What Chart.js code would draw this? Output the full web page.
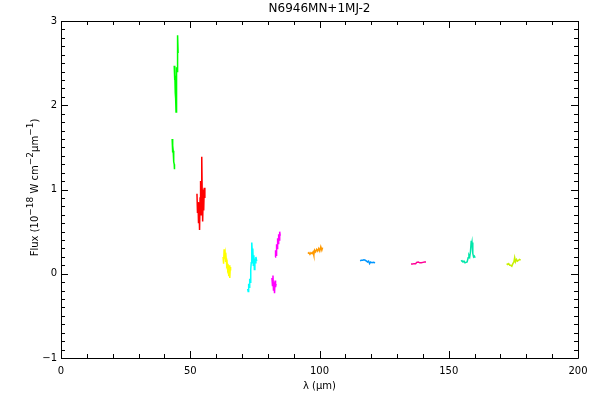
<!DOCTYPE html>
<html>
<head>
<meta charset="utf-8">
<script src="https://cdn.jsdelivr.net/npm/chart.js@4.4.1/dist/chart.umd.min.js"></script>
<style>
  html, body { margin: 0; padding: 0; background: #fff; }
  #wrap { width: 600px; height: 400px; }
</style>
</head>
<body>
<div id="wrap"><canvas id="chart"></canvas></div>
<script>
const chartTitle = 'N6946MN+1MJ-2'
const xTitle = 'λ (μm)'
// [text, superscript?]
const yTitleParts = [['Flux (10', false], ['−18', true], [' W cm', false], ['−2', true], ['μm', false], ['−1', true], [')', false]]

// detector line scans: wavelength (um) / flux
const greenLoX = [43.0, 43.1, 43.2, 43.3, 43.4, 43.5, 43.6, 43.7, 43.8, 43.9]
const greenLoY = [1.60, 1.55, 1.44, 1.52, 1.46, 1.38, 1.45, 1.33, 1.30, 1.24]
const greenHiX = [43.8, 43.9, 44.0, 44.1, 44.2, 44.3, 44.4, 44.5, 44.6, 44.7, 44.8, 44.9, 45.0, 45.1, 45.2, 45.3]
const greenHiY = [2.47, 2.44, 2.30, 2.42, 2.15, 2.35, 2.08, 1.92, 2.22, 2.12, 2.45, 2.40, 2.58, 2.50, 2.83, 2.62]
const redX = [52.6, 52.8, 53.0, 53.2, 53.4, 53.6, 53.8, 54.0, 54.2, 54.4, 54.5, 54.6, 54.8, 55.0, 55.2, 55.4, 55.6, 55.7]
const redY = [0.95, 0.72, 0.85, 0.60, 0.78, 0.52, 0.90, 1.10, 0.70, 0.85, 1.39, 1.00, 0.62, 0.95, 0.75, 1.02, 0.90, 0.98]
const yellowX = [62.7, 62.9, 63.1, 63.3, 63.5, 63.7, 63.9, 64.1, 64.3, 64.5, 64.7, 64.9, 65.1, 65.3, 65.5, 65.6]
const yellowY = [0.20, 0.12, 0.29, 0.22, 0.25, 0.14, 0.18, 0.10, 0.12, 0.05, 0.07, -0.03, 0.10, -0.05, 0.08, 0.04]
const cyanX = [72.2, 72.4, 72.6, 72.8, 73.0, 73.2, 73.4, 73.6, 73.8, 74.0, 74.2, 74.4, 74.6, 74.8, 75.0, 75.2, 75.4, 75.7]
const cyanY = [-0.18, -0.21, -0.12, -0.16, -0.06, -0.10, 0.05, 0.13, 0.37, 0.26, 0.30, 0.10, 0.22, 0.05, 0.18, 0.13, 0.20, 0.15]
const magentaLoX = [81.6, 81.8, 82.0, 82.2, 82.4, 82.6, 82.8, 83.0, 83.2]
const magentaLoY = [-0.05, -0.14, -0.02, -0.20, -0.10, -0.23, -0.08, -0.16, -0.12]
const magentaHiX = [82.8, 83.0, 83.2, 83.4, 83.6, 83.8, 84.0, 84.2, 84.4, 84.6, 84.8]
const magentaHiY = [0.20, 0.28, 0.22, 0.35, 0.30, 0.42, 0.36, 0.47, 0.40, 0.50, 0.45]
const orangeX = [95.5, 95.9, 96.3, 96.7, 97.1, 97.5, 97.8, 98.1, 98.5, 98.9, 99.3, 99.7, 100.1, 100.5, 100.9, 101.2]
const orangeY = [0.24, 0.25, 0.23, 0.25, 0.24, 0.26, 0.22, 0.28, 0.26, 0.29, 0.27, 0.30, 0.27, 0.32, 0.28, 0.31]
const blueX = [115.7, 116.2, 116.7, 117.2, 117.7, 118.2, 118.6, 119.0, 119.4, 119.8, 120.3, 120.8, 121.5]
const blueY = [0.155, 0.16, 0.16, 0.165, 0.16, 0.15, 0.14, 0.15, 0.12, 0.14, 0.13, 0.135, 0.13]
const pinkX = [135.4, 136.0, 136.6, 137.2, 137.6, 138.2, 138.8, 139.4, 140.0, 140.6, 141.2]
const pinkY = [0.115, 0.115, 0.12, 0.12, 0.135, 0.14, 0.13, 0.13, 0.135, 0.14, 0.14]
const tealX = [154.7, 155.1, 155.5, 155.9, 156.3, 156.7, 157.1, 157.5, 157.8, 158.1, 158.4, 158.7, 158.8, 159.0, 159.3, 159.6, 159.9, 160.2]
const tealY = [0.15, 0.155, 0.14, 0.15, 0.13, 0.135, 0.14, 0.19, 0.22, 0.20, 0.26, 0.39, 0.33, 0.37, 0.24, 0.20, 0.21, 0.19]
const limeX = [172.4, 172.8, 173.2, 173.6, 174.0, 174.4, 174.8, 175.2, 175.5, 175.8, 176.2, 176.6, 177.0, 177.4, 177.8]
const limeY = [0.12, 0.11, 0.12, 0.10, 0.10, 0.09, 0.12, 0.14, 0.19, 0.14, 0.17, 0.15, 0.16, 0.17, 0.16]

const segments = [
  [greenLoX, greenLoY, '#00ff00'],
  [greenHiX, greenHiY, '#00ff00'],
  [redX, redY, '#ff0000'],
  [yellowX, yellowY, '#ffff00'],
  [cyanX, cyanY, '#00ffff'],
  [magentaLoX, magentaLoY, '#ff00ff'],
  [magentaHiX, magentaHiY, '#ff00ff'],
  [orangeX, orangeY, '#ff9900'],
  [blueX, blueY, '#0096ff'],
  [pinkX, pinkY, '#ff0096'],
  [tealX, tealY, '#00e6aa'],
  [limeX, limeY, '#c8f000']
]

const font = 'DejaVu Sans'

// IDL style box: inward ticks on all four sides, plus title and y label
const framePlugin = {
  id: 'frame',
  afterDraw (chart) {
    const { ctx, chartArea: a, scales } = chart
    ctx.save()
    ctx.strokeStyle = '#000'
    ctx.lineWidth = 1
    ctx.beginPath()
    ctx.rect(Math.round(a.left) + 0.5, Math.round(a.top) + 0.5, Math.round(a.right - a.left), Math.round(a.bottom - a.top))
    for (let v = 0; v <= 200; v += 10) {
      const x = Math.round(scales.x.getPixelForValue(v)) + 0.5
      const len = v % 50 === 0 ? 7 : 4
      ctx.moveTo(x, a.bottom); ctx.lineTo(x, a.bottom - len)
      ctx.moveTo(x, a.top); ctx.lineTo(x, a.top + len)
    }
    for (let i = -10; i <= 30; i++) {
      const y = Math.round(scales.y.getPixelForValue(i / 10)) + 0.5
      const len = i % 10 === 0 ? 7 : 4
      ctx.moveTo(a.left, y); ctx.lineTo(a.left + len, y)
      ctx.moveTo(a.right, y); ctx.lineTo(a.right - len, y)
    }
    ctx.stroke()

    ctx.fillStyle = '#000'
    ctx.font = '12px "' + font + '"'
    ctx.textAlign = 'center'
    ctx.textBaseline = 'middle'
    ctx.fillText(chartTitle, (a.left + a.right) / 2, 9)

    // y axis title with superscripts
    ctx.textAlign = 'left'
    ctx.textBaseline = 'alphabetic'
    const base = '10px "' + font + '"'
    const sup = '9px "' + font + '"'
    let total = 0
    for (const [t, s] of yTitleParts) {
      ctx.font = s ? sup : base
      total += ctx.measureText(t).width
    }
    ctx.translate(38, (a.top + a.bottom) / 2 - 2)
    ctx.rotate(-Math.PI / 2)
    let x = -total / 2
    for (const [t, s] of yTitleParts) {
      ctx.font = s ? sup : base
      ctx.fillText(t, x, s ? -5 : 0)
      x += ctx.measureText(t).width
    }
    ctx.restore()
  }
}

new Chart(document.getElementById('chart'), {
  type: 'scatter',
  data: {
    datasets: segments.map(([xs, ys, color]) => ({
      data: xs.map((x, i) => ({ x, y: ys[i] })),
      showLine: true,
      borderColor: color,
      backgroundColor: color,
      borderWidth: 1.5,
      pointRadius: 0
    }))
  },
  options: {
    responsive: true,
    maintainAspectRatio: false,
    animation: false,
    layout: { padding: { top: 21, right: 22 } },
    plugins: {
      legend: { display: false },
      tooltip: { enabled: false },
      title: { display: false }
    },
    scales: {
      x: {
        type: 'linear',
        min: 0,
        max: 200,
        grid: { display: false, drawTicks: false },
        border: { display: false },
        ticks: { stepSize: 50, color: '#000', padding: 7, maxRotation: 0, font: { family: font, size: 10 } },
        title: { display: true, text: xTitle, color: '#000', font: { family: font, size: 10 }, padding: { top: 0, bottom: 8 } },
        afterFit: s => { s.height = 42 }
      },
      y: {
        type: 'linear',
        min: -1,
        max: 3,
        grid: { display: false, drawTicks: false },
        border: { display: false },
        ticks: {
          stepSize: 1,
          color: '#000',
          padding: 4,
          font: { family: font, size: 10 },
          callback: v => String(v).replace('-', '−')
        },
        afterFit: s => { s.width = 61 }
      }
    }
  },
  plugins: [framePlugin]
})
</script>
</body>
</html>
